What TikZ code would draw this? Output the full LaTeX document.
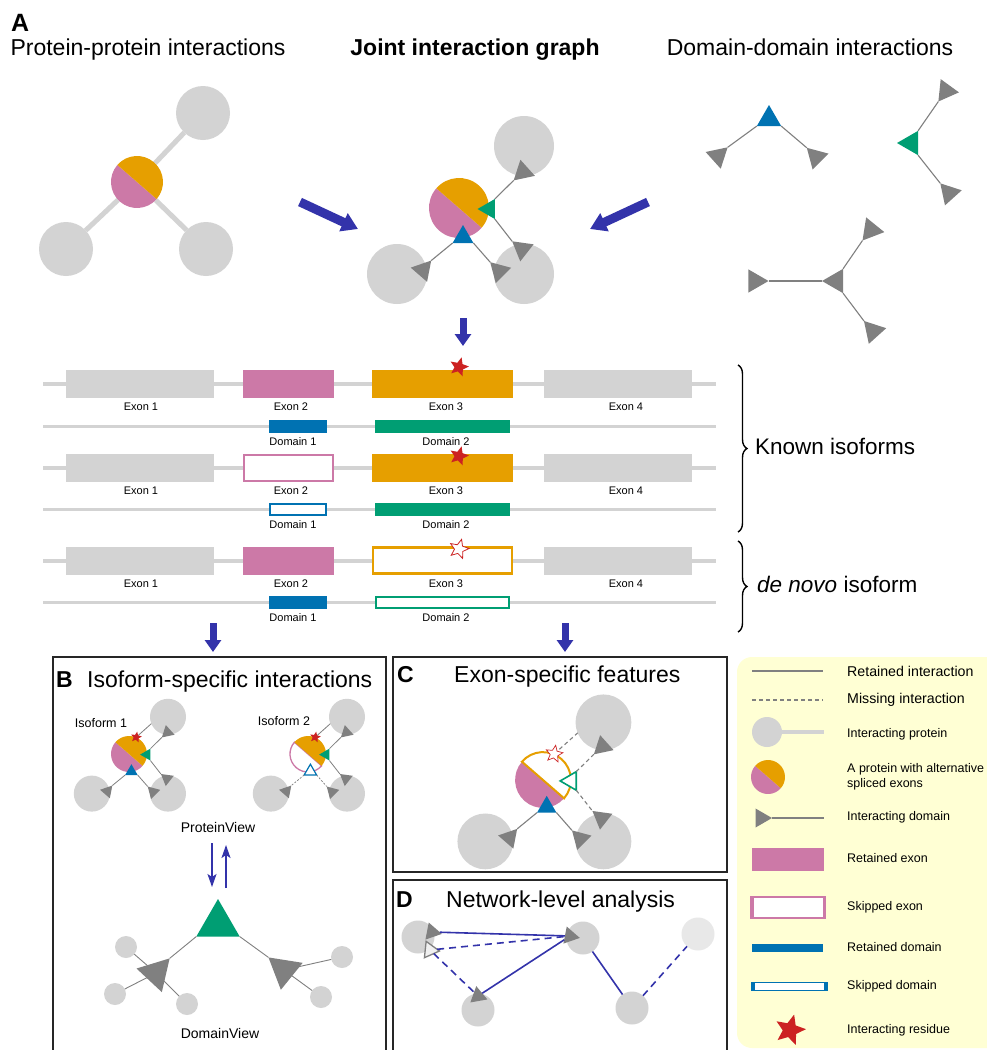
\documentclass[tikz,border=0pt]{standalone}
\usepackage{fontspec}
\setmainfont{Liberation Sans}
\usetikzlibrary{shapes.geometric,arrows.meta,decorations.pathreplacing}
\definecolor{cOr}{HTML}{E69F00}
\definecolor{cPk}{HTML}{CC79A7}
\definecolor{cBl}{HTML}{0072B2}
\definecolor{cGr}{HTML}{009E73}
\definecolor{cLg}{HTML}{D3D3D3}
\definecolor{cVl}{HTML}{E8E8E8}
\definecolor{cDg}{HTML}{808080}
\definecolor{cAr}{HTML}{3333AA}
\definecolor{cRed}{HTML}{CC2222}
\definecolor{cLeg}{HTML}{FFFFD4}
\newif\ifjgstar
\newcommand\fsT{\fontsize{23}{27}\selectfont}
\newcommand\fsK{\fontsize{22.5}{26}\selectfont}
\newcommand\fsM{\fontsize{14.2}{17}\selectfont}
\newcommand\fsS{\fontsize{12.5}{15}\selectfont}
\newcommand\fsV{\fontsize{14}{17}\selectfont}
\newcommand\fsE{\fontsize{11}{13}\selectfont}
\tikzset{
  gcirc/.style={circle, fill=cLg, inner sep=0pt, outer sep=0pt, minimum size=#1},
  tri/.style={regular polygon, regular polygon sides=3, inner sep=0pt, outer sep=0pt, minimum size=#1},
  gtri/.style={tri=#1, fill=cDg},
  iline/.style={draw=cDg, line width=1.1pt},
  dline/.style={draw=cDg, line width=1.1pt, dash pattern=on 4pt off 3pt},
  ppiedge/.style={draw=cLg, line width=5pt},
  bigarrow/.style={draw=cAr, line width=9pt, -{Triangle[length=16pt,width=19pt]}},
  midarrow/.style={draw=cAr, line width=7pt, -{Triangle[length=12pt,width=16pt]}},
  smallarrow/.style={draw=cAr, line width=1.6pt, -{Stealth[length=13pt,width=9pt,inset=3pt]}},
  redstar/.style={star, star points=5, star point ratio=2.2, inner sep=0pt, outer sep=0pt, minimum size=#1, fill=cRed},
  jgpink/.style={fill=cPk},
  jgorange/.style={fill=cOr},
  jggreen/.style={fill=cGr},
  jgblue/.style={fill=cBl},
  jggline/.style={iline},
  jgbline/.style={iline},
  jgstar/.style={redstar=19pt, rotate=-10},
  jgstarline/.style={iline},
  gene/.style={draw=cLg, line width=3.5pt},
  exon/.style={rectangle, inner sep=0pt, outer sep=0pt, minimum height=28pt},
  dom/.style={rectangle, inner sep=0pt, outer sep=0pt, minimum height=13pt},
  lbl/.style={font=\fsE, inner sep=0pt},
  ttl/.style={font=\fsT, inner sep=0pt},
  lg/.style={font=\fsS, inner sep=0pt, anchor=west, align=left},
  panel/.style={draw=black!85, line width=1.6pt},
  net/.style={draw=cAr, line width=1.6pt},
  netd/.style={draw=cAr, line width=1.6pt, dash pattern=on 7pt off 5pt},
  skipE/.style={fill=white, draw=cPk, line width=2pt, minimum width=89pt, minimum height=26pt},
  skipO/.style={fill=white, draw=cOr, line width=2.4pt, minimum width=139pt, minimum height=26pt},
  skipB/.style={fill=white, draw=cBl, line width=2pt, minimum width=56pt, minimum height=11pt},
  skipG/.style={fill=white, draw=cGr, line width=2pt, minimum width=133pt, minimum height=11pt},
}
\newcommand\halfc[4]{\path[#4] (#1) ++(#3:#2) arc[start angle=#3, delta angle=180, radius=#2] -- cycle;}
\newcommand\jg[1]{%
  \coordinate (#1o) at (0,0);
  \ifjgstar
    \coordinate (#1sc) at (12,-28);
    \coordinate (#1se) at (50,-62);
    \draw[jgstarline] (#1sc) -- (#1se);
  \fi
  \node[gcirc=60pt] (#1tr) at (65,-62) {};
  \node[gcirc=60pt] (#1bl) at (-62,66) {};
  \node[gcirc=60pt] (#1br) at (65,66) {};
  \halfc{#1o}{30pt}{139}{jgpink}
  \halfc{#1o}{30pt}{-41}{jgorange}
  \node[gtri=25pt, rotate=132] (#1ttr) at (64,-36) {};
  \node[gtri=25pt, rotate=52] (#1tbrt) at (63,41) {};
  \node[gtri=25pt, rotate=45] (#1tbrb) at (40,63) {};
  \node[gtri=25pt, rotate=-41] (#1tbl) at (-36,62) {};
  \node[tri=23pt, rotate=90, jggreen] (#1g) at (30,1) {};
  \node[tri=24pt, jgblue] (#1b) at (4,29) {};
  \draw[jggline] (#1g.corner 3) -- (#1ttr.corner 1);
  \draw[jggline] (#1g.corner 2) -- (#1tbrt.corner 1);
  \draw[jgbline] (#1b.corner 2) -- (#1tbl.corner 1);
  \draw[jgbline] (#1b.corner 3) -- (#1tbrb.corner 1);
  \ifjgstar \node[jgstar] (#1s) at (#1sc) {}; \fi
}
\newcommand\generow[9]{%
  \coordinate (#1a) at (43,#2); \coordinate (#1b) at (716,#2);
  \draw[gene] (#1a) -- (#1b);
  \coordinate (#1c) at (43,#3); \coordinate (#1d) at (716,#3);
  \draw[gene] (#1c) -- (#1d);
  \node[exon, fill=cLg, minimum width=148pt] (#1e1) at (140,{#2-0.5}) {};
  \node[exon, minimum width=91pt, #4] (#1e2) at (288.5,{#2-0.5}) {};
  \node[exon, minimum width=141pt, #5] (#1e3) at (442.5,{#2-0.5}) {};
  \node[exon, fill=cLg, minimum width=148pt] (#1e4) at (618,{#2-0.5}) {};
  \node[#6] (#1s) at (459,#7) {};
  \node[dom, minimum width=58pt, #8] (#1m1) at (298,#3) {};
  \node[dom, minimum width=135pt, #9] (#1m2) at (442.5,#3) {};
  \node[lbl] (#1l1) at (141,{#2+23}) {Exon 1};
  \node[lbl] (#1l2) at (291,{#2+23}) {Exon 2};
  \node[lbl] (#1l3) at (446,{#2+23}) {Exon 3};
  \node[lbl] (#1l4) at (626,{#2+23}) {Exon 4};
  \node[lbl] (#1l5) at (293,{#3+15.5}) {Domain 1};
  \node[lbl] (#1l6) at (446,{#3+15.5}) {Domain 2};
}
\begin{document}
\begin{tikzpicture}[x=1pt,y=-1pt]
\useasboundingbox (0,0) rectangle (987,1050);
\fill[white] (0,0) rectangle (987,1050);
\clip (0,0) rectangle (987,1050);

% ---------- Header ----------
\node[font=\fontsize{25}{27}\selectfont\bfseries, inner sep=0pt, anchor=base west] (hA) at (11,31) {A};
\node[ttl, anchor=base] (h1) at (148,55) {Protein-protein interactions};
\node[ttl, anchor=base, font=\fsT\bfseries] (h2) at (475,55) {Joint interaction graph};
\node[ttl, anchor=base] (h3) at (810,55) {Domain-domain interactions};

% ---------- PPI ----------
\node[gcirc=54pt] (pTR) at (203,113) {};
\node[gcirc=54pt] (pBL) at (66,249) {};
\node[gcirc=54pt] (pBR) at (206,249) {};
\node[circle, minimum size=52pt, inner sep=0pt, outer sep=0pt] (pC) at (137,182) {};
\draw[ppiedge] (pC) -- (pTR);
\draw[ppiedge] (pC) -- (pBL);
\draw[ppiedge] (pC) -- (pBR);
\halfc{pC}{26pt}{139}{fill=cPk}
\halfc{pC}{26pt}{-41}{fill=cOr}

% ---------- big arrows ----------
\coordinate (a1s) at (300,202); \coordinate (a1e) at (358,229);
\coordinate (a2s) at (648,202); \coordinate (a2e) at (590,229);
\coordinate (a3s) at (463,318); \coordinate (a3e) at (463,346);
\draw[bigarrow] (a1s) -- (a1e);
\draw[bigarrow] (a2s) -- (a2e);
\draw[midarrow] (a3s) -- (a3e);

% ---------- Joint graph ----------
\begin{scope}[shift={(459,208)}]
  \jg{J}
\end{scope}

% ---------- Domain-domain ----------
\node[tri=28pt, fill=cBl] (d1b) at (769,119) {};
\node[gtri=26pt, rotate=-48] (d1l) at (718,156) {};
\node[gtri=26pt, rotate=45] (d1r) at (816,157) {};
\draw[iline] (d1b.corner 2) -- (d1l.corner 1);
\draw[iline] (d1b.corner 3) -- (d1r.corner 1);
\node[tri=28pt, fill=cGr, rotate=90] (d2g) at (911,143) {};
\node[gtri=26pt, rotate=144] (d2u) at (946,91) {};
\node[gtri=26pt, rotate=42] (d2d) at (949,193) {};
\draw[iline] (d2g.corner 3) -- (d2u.corner 1);
\draw[iline] (d2g.corner 2) -- (d2d.corner 1);
\node[gtri=28pt, rotate=90] (d3c) at (836,281) {};
\node[gtri=27pt, rotate=-90] (d3l) at (755,281) {};
\node[gtri=27pt, rotate=141] (d3u) at (871,230) {};
\node[gtri=27pt, rotate=42] (d3d) at (873,331) {};
\draw[iline] (d3c.corner 1) -- (d3l.corner 1);
\draw[iline] (d3c.corner 3) -- (d3u.corner 1);
\draw[iline] (d3c.corner 2) -- (d3d.corner 1);

% ---------- Gene rows ----------
\generow{R}{384}{426.5}{fill=cPk}{fill=cOr}{redstar=20pt, rotate=-15}{367}{fill=cBl}{fill=cGr}
\generow{S}{468}{509.5}{skipE}{fill=cOr}{redstar=20pt, rotate=-15}{456}{skipB}{fill=cGr}
\generow{T}{561}{602.5}{fill=cPk}{skipO}{redstar=20pt, rotate=-15, fill=white, draw=cRed, line width=0.8pt}{549}{fill=cBl}{skipG}

% braces
\coordinate (bk1) at (738,365); \coordinate (bk2) at (738,532);
\coordinate (bn1) at (738,541); \coordinate (bn2) at (738,632);
\draw[line width=1.4pt, decorate, decoration={brace, amplitude=9pt}] (bk1) -- (bk2);
\draw[line width=1.4pt, decorate, decoration={brace, amplitude=9pt}] (bn1) -- (bn2);
\node[font=\fsK, inner sep=0pt, anchor=west] (kn) at (755,446) {Known isoforms};
\node[font=\fsK, inner sep=0pt, anchor=west] (dn) at (757,584) {\textit{de novo} isoform};

% down arrows
\coordinate (a4s) at (213,623); \coordinate (a4e) at (213,652);
\coordinate (a5s) at (565,623); \coordinate (a5e) at (565,652);
\draw[midarrow] (a4s) -- (a4e);
\draw[midarrow] (a5s) -- (a5e);

% ---------- Panels ----------
\draw[panel] (53,657) rectangle (386,1070);
\draw[panel] (393,657) rectangle (727,872);
\draw[panel] (393,880) rectangle (727,1070);
\fill[cLeg, rounded corners=15pt] (737,657) rectangle (1010,1048);

\node[ttl, anchor=base west, font=\fsT\bfseries] (tB) at (56,687) {B};
\node[ttl, anchor=base west] (tB2) at (87,687) {Isoform-specific interactions};
\node[ttl, anchor=base west, font=\fsT\bfseries] (tC) at (397,682) {C};
\node[ttl, anchor=base west] (tC2) at (454,682) {Exon-specific features};
\node[ttl, anchor=base west, font=\fsT\bfseries] (tD) at (396,907) {D};
\node[ttl, anchor=base west] (tD2) at (446,907) {Network-level analysis};

% ---------- Panel B ----------
\node[font=\fsS, inner sep=0pt] (iso1) at (101,723) {Isoform 1};
\node[font=\fsS, inner sep=0pt] (iso2) at (284,721) {Isoform 2};
\begin{scope}[shift={(129,754)}, scale=0.6, transform shape, iline/.style={draw=cDg, line width=0.8pt}]
  \jgstartrue
  \jg{I}
\end{scope}
\begin{scope}[shift={(308,754)}, scale=0.6, transform shape, iline/.style={draw=cDg, line width=0.8pt},
  jgpink/.style={fill=white, draw=cPk, line width=1.3pt},
  jgblue/.style={fill=white, draw=cBl, line width=1.2pt},
  jgbline/.style={draw=cDg, line width=0.7pt, dash pattern=on 2pt off 1.5pt}]
  \jgstartrue
  \jg{K}
\end{scope}
\node[font=\fsV, inner sep=0pt] (pv) at (218,827) {ProteinView};
\coordinate (u1s) at (212,843); \coordinate (u1e) at (212,887);
\coordinate (u2s) at (226,888); \coordinate (u2e) at (226,845);
\draw[smallarrow] (u1s) -- (u1e);
\draw[smallarrow] (u2s) -- (u2e);

% DomainView
\node[gcirc=22pt] (dv1) at (126,947) {};
\node[gcirc=22pt] (dv2) at (115,994) {};
\node[gcirc=22pt] (dv3) at (187,1004) {};
\node[gcirc=22pt] (dv4) at (342,957) {};
\node[gcirc=22pt] (dv5) at (321,997) {};
\coordinate (dvlc) at (156,973); \coordinate (dvrc) at (284,970);
\draw[iline, line width=0.9pt] (dvlc) -- (dv1);
\draw[iline, line width=0.9pt] (dvlc) -- (dv2);
\draw[iline, line width=0.9pt] (dvlc) -- (dv3);
\draw[iline, line width=0.9pt] (dvrc) -- (dv4);
\draw[iline, line width=0.9pt] (dvrc) -- (dv5);
\node[tri=50pt, fill=cGr] (dvg) at (218,924) {};
\node[gtri=40pt, rotate=-43] (dvl) at (dvlc) {};
\node[gtri=40pt, rotate=51] (dvr) at (dvrc) {};
\draw[iline, line width=0.9pt] (dvg.corner 2) -- (dvl.corner 1);
\draw[iline, line width=0.9pt] (dvg.corner 3) -- (dvr.corner 1);
\node[font=\fsV, inner sep=0pt] (dvt) at (220,1033) {DomainView};

% ---------- Panel C ----------
\begin{scope}[shift={(543,780)}, scale=0.93, transform shape,
  jgorange/.style={fill=white, draw=cOr, line width=2pt},
  jggreen/.style={fill=white, draw=cGr, line width=1.6pt},
  jggline/.style={dline},
  jgstar/.style={redstar=19pt, fill=white, draw=cRed, line width=0.7pt, rotate=-10},
  jgstarline/.style={dline}]
  \jgstartrue
  \jg{C}
\end{scope}

% ---------- Panel D ----------
\node[gcirc=33pt] (nA) at (418,937) {};
\node[gcirc=33pt] (nB) at (583,938) {};
\node[gcirc=33pt] (nC) at (478,1010) {};
\node[gcirc=33pt] (nD) at (632,1008) {};
\node[gcirc=33pt, fill=cVl] (nE) at (698,934) {};
\draw[net] (nB) -- (nD);
\draw[netd] (nD) -- (nE);
\node[gtri=20pt, rotate=-101] (tA1) at (432,932) {};
\node[tri=19pt, rotate=-96, fill=gray!12, draw=cDg, line width=1.3pt] (tA2) at (430,950) {};
\node[gtri=20pt, rotate=-101] (tBB) at (570,936) {};
\node[gtri=20pt, rotate=-110] (tCC) at (478,996) {};
\draw[net] (tA1) -- (tBB);
\draw[netd] (tA2) -- (tBB);
\draw[netd] (tA2) -- (tCC);
\draw[net] (tBB) -- (tCC);

% ---------- Legend ----------
\coordinate (l1a) at (752,671); \coordinate (l1b) at (823,671);
\draw[iline] (l1a) -- (l1b);
\node[lg, font=\fsM] (lt1) at (847,671) {Retained interaction};
\coordinate (l2a) at (752,700); \coordinate (l2b) at (823,700);
\draw[dline] (l2a) -- (l2b);
\node[lg, font=\fsM] (lt2) at (847,700) {Missing interaction};
\node[gcirc=30pt] (lp) at (767,732) {};
\coordinate (lpe) at (824,732);
\draw[draw=cLg, line width=4pt] (lp) -- (lpe);
\node[lg] (lt3) at (847,734) {Interacting protein};
\coordinate (lsc) at (768,777);
\halfc{lsc}{17pt}{139}{fill=cPk}
\halfc{lsc}{17pt}{-41}{fill=cOr}
\node[lg] (lt4) at (847,777) {A protein with alternative\\spliced exons};
\node[gtri=22pt, rotate=-90] (ltr) at (761,818) {};
\coordinate (ltre) at (824,818);
\draw[iline] (ltr.corner 1) -- (ltre);
\node[lg] (lt5) at (847,817) {Interacting domain};
\node[rectangle, fill=cPk, minimum width=72pt, minimum height=23pt, inner sep=0pt] (lre) at (788,859.5) {};
\node[lg] (lt6) at (847,858) {Retained exon};
\node[rectangle, fill=white, draw=cPk, line width=2pt, minimum width=74pt, minimum height=21pt, inner sep=0pt] (lse) at (788,907.5) {};
\fill[cPk] (lse.north west) rectangle ++(3.5,21);
\fill[cPk] (lse.north east) rectangle ++(-3.5,21);
\node[lg] (lt7) at (847,907) {Skipped exon};
\node[rectangle, fill=cBl, minimum width=71pt, minimum height=8pt, inner sep=0pt] (lrd) at (787.5,948) {};
\node[lg] (lt8) at (847,947) {Retained domain};
\node[rectangle, fill=white, draw=cBl, line width=1.2pt, minimum width=76pt, minimum height=8pt, inner sep=0pt] (lsd) at (789.5,986.5) {};
\fill[cBl] (lsd.north west) rectangle ++(4,9);
\fill[cBl] (lsd.north east) rectangle ++(-4,9);
\node[lg] (lt9) at (847,986) {Skipped domain};
\node[redstar=32pt, rotate=-15] (lst) at (790,1030) {};
\node[lg] (lt10) at (847,1030) {Interacting residue};
\end{tikzpicture}
\end{document}
